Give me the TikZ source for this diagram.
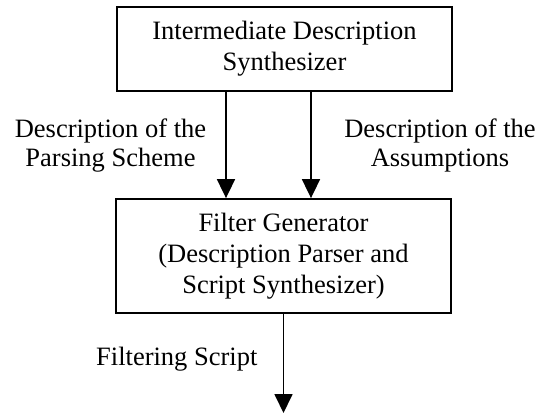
\documentclass[tikz,border=0pt]{standalone}
\usepackage{fontspec}
\setmainfont{Liberation Serif}
\usetikzlibrary{arrows.meta}
\begin{document}
\begin{tikzpicture}[x=1pt,y=-1pt,
  box/.style={draw,line width=1.8pt,minimum width=335pt,inner sep=0pt,align=center,font=\fontsize{26.5}{31}\selectfont},
  lbl/.style={inner sep=0pt,align=center,font=\fontsize{26.5}{29}\selectfont},
  arr/.style={line width=1.8pt,-{Triangle[width=18pt,length=19pt]}}]
\useasboundingbox (0,0) rectangle (544,415);
\node[box,minimum height=84pt] (syn) at (284.5,49) {Intermediate Description\\Synthesizer};
\node[box,minimum height=114pt] (gen) at (283.5,256) {Filter Generator\\(Description Parser and\\Script Synthesizer)};
\coordinate (xl) at (226,0);
\coordinate (xr) at (311,0);
\coordinate (out) at (283.5,413);
\draw[arr] (syn.south -| xl) -- (gen.north -| xl);
\draw[arr] (syn.south -| xr) -- (gen.north -| xr);
\draw[arr] (gen.south) -- (out);
\node[lbl] (lparse) at (110.5,145.3) {Description of the\\Parsing Scheme};
\node[lbl] (lassum) at (440,145.3) {Description of the\\Assumptions};
\node[lbl,anchor=base west] (lfilt) at (96,365) {Filtering Script};
\end{tikzpicture}
\end{document}
